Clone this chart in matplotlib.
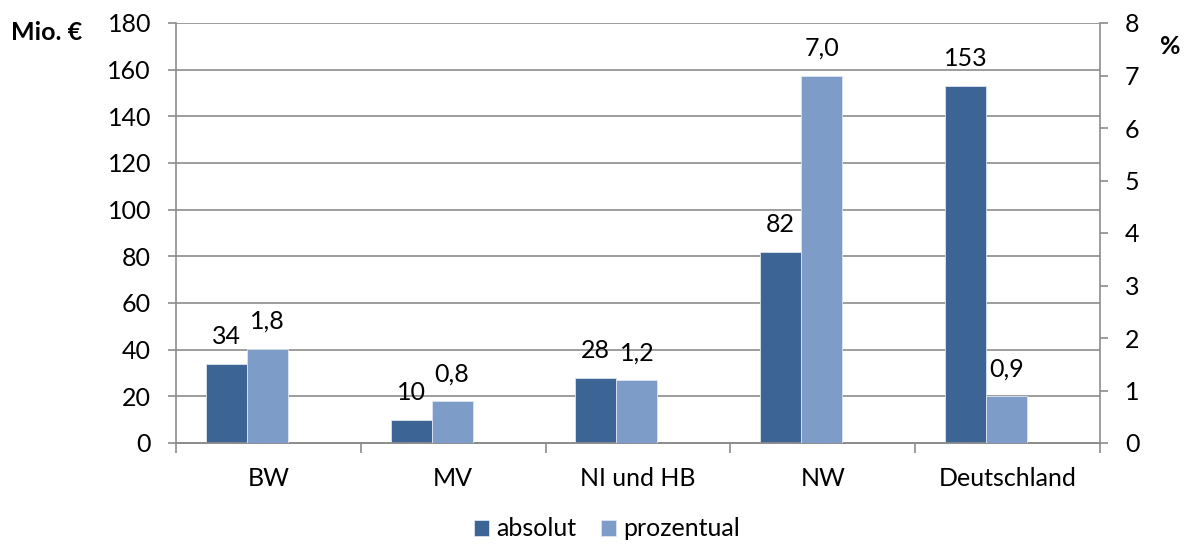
import matplotlib
matplotlib.use("Agg")
import matplotlib.pyplot as plt
import numpy as np

categories = ["BW", "MV", "NI und HB", "NW", "Deutschland"]
absolut = [34, 10, 28, 82, 153]
prozentual = [1.8, 0.8, 1.2, 7.0, 0.9]
absolut_labels = ["34", "10", "28", "82", "153"]
prozentual_labels = ["1,8", "0,8", "1,2", "7,0", "0,9"]
left_ticks = list(range(0, 181, 20))
right_ticks = list(range(0, 9))

DARK = "#3C6494"
LIGHT = "#7E9CC8"
GRID = "#8C8C8C"
FONT = ["Lato", "DejaVu Sans"]
plt.rcParams['font.family'] = FONT
FS = 18

fig = plt.figure(figsize=(11.95, 5.44), dpi=100)
ax = fig.add_axes([176/1195, 1-443/544, (1100-176)/1195, (443-23)/544])
ax2 = ax.twinx()

x = np.arange(len(categories))
w = 0.222
shift = -0.117
b1 = ax.bar(x + shift - w/2, absolut, w, color=DARK, edgecolor="#DCE4EF", linewidth=0.6, zorder=3)
b2 = ax2.bar(x + shift + w/2, prozentual, w, color=LIGHT, edgecolor="#DCE4EF", linewidth=0.6, zorder=3)

ax.set_xlim(-0.5, len(categories) - 0.5)
ax.set_ylim(0, 180)
ax2.set_ylim(0, 8)
ax.set_yticks(left_ticks)
ax2.set_yticks(right_ticks)
ax.yaxis.grid(True, color=GRID, linewidth=1.2, zorder=0)
ax.set_axisbelow(True)

for a in (ax, ax2):
    a.spines['top'].set_visible(False)
    for s in ('left', 'right', 'bottom'):
        a.spines[s].set_color(GRID)
        a.spines[s].set_linewidth(1.2)
    a.tick_params(axis='y', colors=GRID, labelcolor='black', labelsize=FS, length=6, width=1.2, pad=12)

ax2.spines['left'].set_visible(False)
ax.spines['right'].set_visible(False)

ax.set_xticks(np.arange(len(categories) + 1) - 0.5)
ax.set_xticklabels([])
ax.tick_params(axis='x', which='major', colors=GRID, length=7, width=1.2)
ax.set_xticks(x, minor=True)
ax.set_xticklabels(categories, minor=True)
ax.tick_params(axis='x', which='minor', length=0, labelsize=FS, labelcolor='black', pad=17)

for rect, lab in zip(b1, absolut_labels):
    ax.annotate(lab, (rect.get_x() + rect.get_width()/2, rect.get_height()),
                xytext=(0, 19.5), textcoords='offset points', ha='center', va='center', fontsize=FS)
for rect, lab in zip(b2, prozentual_labels):
    ax2.annotate(lab, (rect.get_x() + rect.get_width()/2, rect.get_height()),
                 xytext=(0, 19.5), textcoords='offset points', ha='center', va='center', fontsize=FS)

fig.text(47/1195, 1-33/544, "Mio. €", fontsize=FS, fontweight='bold', ha='center', va='center')
fig.text(1170/1195, 1-47/544, "%", fontsize=FS, fontweight='bold', ha='center', va='center')

leg = fig.legend([b1, b2], ["absolut", "prozentual"], loc='center', bbox_to_anchor=(607/1195, 1-529/544),
                 ncol=2, frameon=False, fontsize=FS, handlelength=0.6, handleheight=0.6,
                 handletextpad=0.3, columnspacing=1.0, borderpad=0.0)

fig.savefig("out.png", dpi=100)
